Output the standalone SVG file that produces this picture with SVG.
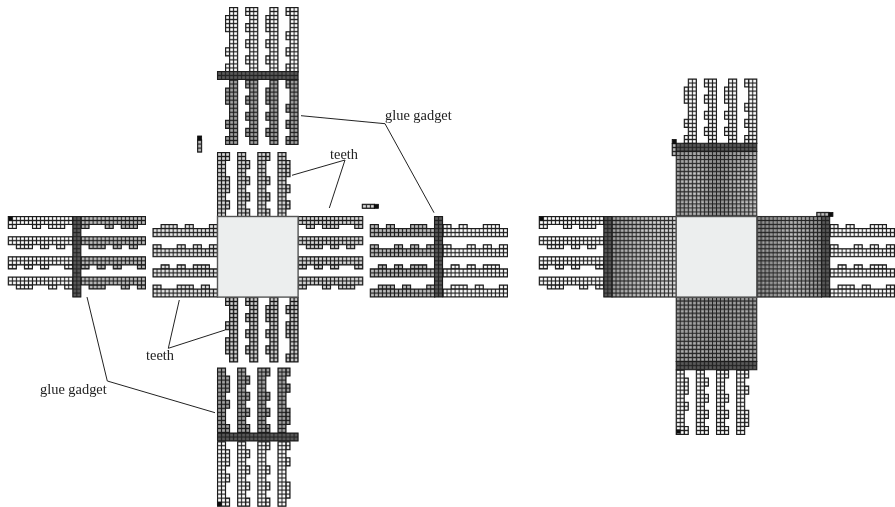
<svg xmlns="http://www.w3.org/2000/svg" width="895" height="507" viewBox="0 0 895 507">
<style>
.c{stroke:#1a1a1a;stroke-width:.26;stroke-linejoin:miter}
.pw{fill:url(#pw)}.pl{fill:url(#pl)}.pn{fill:url(#pn)}.pm{fill:url(#pm)}.pg{fill:url(#pg)}.ps{fill:url(#ps)}.pd{fill:url(#pd)}.pk{fill:#111;stroke:#111;stroke-width:.2}
.mesh{stroke:#333;stroke-width:.26}
.core{fill:#eceeee;stroke:#555;stroke-width:1.4}
.lead{fill:none;stroke:#222;stroke-width:1}
text{font-family:"Liberation Serif","Times New Roman",serif;font-size:14.4px;fill:#222}
</style>
<defs>
<filter id="b" x="-2%" y="-2%" width="104%" height="104%"><feGaussianBlur stdDeviation=".25"/></filter>
<pattern id="pw" patternUnits="userSpaceOnUse" x=".5" y=".5" width="1" height="1"><rect width="1" height="1" fill="#fff"/><path d="M.5 0V1M0 .5H1" stroke="#1a1a1a" stroke-width=".26" fill="none"/></pattern>
<pattern id="pl" patternUnits="userSpaceOnUse" x=".5" y=".5" width="1" height="1"><rect width="1" height="1" fill="#e6e6e6"/><path d="M.5 0V1M0 .5H1" stroke="#1a1a1a" stroke-width=".26" fill="none"/></pattern>
<pattern id="pn" patternUnits="userSpaceOnUse" x=".5" y=".5" width="1" height="1"><rect width="1" height="1" fill="#d8d8d8"/><path d="M.5 0V1M0 .5H1" stroke="#1a1a1a" stroke-width=".26" fill="none"/></pattern>
<pattern id="pm" patternUnits="userSpaceOnUse" x=".5" y=".5" width="1" height="1"><rect width="1" height="1" fill="#bcbcbc"/><path d="M.5 0V1M0 .5H1" stroke="#1a1a1a" stroke-width=".26" fill="none"/></pattern>
<pattern id="pg" patternUnits="userSpaceOnUse" x=".5" y=".5" width="1" height="1"><rect width="1" height="1" fill="#a2a2a2"/><path d="M.5 0V1M0 .5H1" stroke="#1a1a1a" stroke-width=".26" fill="none"/></pattern>
<pattern id="ps" patternUnits="userSpaceOnUse" x=".5" y=".5" width="1" height="1"><rect width="1" height="1" fill="#d0d0d0"/><path d="M.5 0V1M0 .5H1" stroke="#111" stroke-width=".32" fill="none"/></pattern>
<pattern id="pd" patternUnits="userSpaceOnUse" x=".5" y=".5" width="1" height="1"><rect width="1" height="1" fill="#5a5a5a"/><path d="M.5 0V1M0 .5H1" stroke="#222" stroke-width=".28" fill="none"/></pattern>
<pattern id="pc" patternUnits="userSpaceOnUse" x=".5" y=".5" width="1" height="1"><rect width="1" height="1" fill="#e0e0e0"/><path d="M.5 0V1M0 .5H1" stroke="#2a2a2a" stroke-width=".26" fill="none"/></pattern>
<pattern id="mo" patternUnits="userSpaceOnUse" width="4.35" height="4.35"><path d="M1 0V4.35M0 1H4.35" stroke="#333" stroke-width="1.1" stroke-opacity=".28" fill="none"/></pattern>
<linearGradient id="gw" x1="0" x2="1" y1="0" y2="0"><stop offset="0" stop-color="#000" stop-opacity=".3"/><stop offset=".6" stop-color="#000" stop-opacity=".08"/><stop offset="1" stop-color="#000" stop-opacity="0"/></linearGradient>
<linearGradient id="ge" x1="0" x2="1" y1="0" y2="0"><stop offset="0" stop-color="#000" stop-opacity=".32"/><stop offset=".55" stop-color="#000" stop-opacity=".1"/><stop offset="1" stop-color="#000" stop-opacity=".28"/></linearGradient>
<linearGradient id="gn" x1="0" x2="1" y1="0" y2="0"><stop offset="0" stop-color="#000" stop-opacity=".22"/><stop offset=".25" stop-color="#000" stop-opacity=".1"/><stop offset=".5" stop-color="#000" stop-opacity=".24"/><stop offset=".75" stop-color="#000" stop-opacity=".16"/><stop offset="1" stop-color="#000" stop-opacity=".03"/></linearGradient>
<linearGradient id="gs" x1="0" x2="0" y1="0" y2="1"><stop offset="0" stop-color="#000" stop-opacity=".3"/><stop offset=".5" stop-color="#000" stop-opacity=".18"/><stop offset="1" stop-color="#000" stop-opacity=".25"/></linearGradient>
<path id="NO" d="M3 0h2v16H3zM2 2h1v4H2zM2 10h1v2H2zM2 14h1v2H2zM8 0h2v16H8zM7 0h1v2H7zM7 4h1v2H7zM7 8h1v2H7zM7 12h1v2H7zM13 0h2v16h-2zM12 2h1v4h-1zM12 8h1v2h-1zM12 12h1v2h-1zM18 0h2v16h-2zM17 0h1v2h-1zM17 6h1v2h-1zM17 10h1v2h-1zM17 14h1v2h-1z"/>
<path id="NI" d="M0 0h2v16H0zM2 0h1v2H2zM2 6h1v4H2zM2 12h1v2H2zM5 0h2v16H5zM7 2h1v2H7zM7 6h1v2H7zM7 10h1v2H7zM7 14h1v2H7zM10 0h2v16h-2zM12 0h1v2h-1zM12 6h1v2h-1zM12 10h1v2h-1zM12 14h1v2h-1zM15 0h2v16h-2zM17 2h1v4h-1zM17 8h1v2h-1zM17 12h1v2h-1z"/>
<path id="WO" d="M0 0h16v2H0zM0 2h2v1H0zM6 2h2v1H6zM10 2h4v1h-4zM0 5h16v2H0zM2 7h4v1H2zM8 7h2v1H8zM12 7h2v1h-2zM0 10h16v2H0zM0 12h2v1H0zM4 12h2v1H4zM8 12h2v1H8zM14 12h2v1h-2zM0 15h16v2H0zM2 17h4v1H2zM10 17h2v1h-2zM14 17h2v1h-2z"/>
<path id="WI" d="M0 3h16v2H0zM2 2h4v1H2zM8 2h2v1H8zM14 2h2v1h-2zM0 8h16v2H0zM0 7h2v1H0zM6 7h2v1H6zM10 7h2v1h-2zM14 7h2v1h-2zM0 13h16v2H0zM2 12h2v1H2zM6 12h2v1H6zM10 12h4v1h-4zM0 18h16v2H0zM0 17h2v1H0zM6 17h4v1H6zM12 17h2v1h-2z"/>
<path id="EI" d="M0 0h16v2H0zM2 2h2v1H2zM6 2h4v1H6zM14 2h2v1h-2zM0 5h16v2H0zM2 7h4v1H2zM8 7h2v1H8zM12 7h2v1h-2zM0 10h16v2H0zM0 12h2v1H0zM4 12h2v1H4zM8 12h2v1H8zM14 12h2v1h-2zM0 15h16v2H0zM0 17h2v1H0zM6 17h2v1H6zM10 17h4v1h-4z"/>
<path id="EO" d="M0 3h16v2H0zM0 2h2v1H0zM4 2h2v1H4zM10 2h4v1h-4zM0 8h16v2H0zM0 7h2v1H0zM6 7h2v1H6zM10 7h2v1h-2zM14 7h2v1h-2zM0 13h16v2H0zM2 12h2v1H2zM6 12h2v1H6zM10 12h4v1h-4zM0 18h16v2H0zM2 17h4v1H2zM8 17h2v1H8zM14 17h2v1h-2z"/>
<path id="SI" d="M3 0h2v16H3zM2 0h1v2H2zM2 6h1v2H2zM2 10h1v4H2zM8 0h2v16H8zM7 0h1v2H7zM7 4h1v2H7zM7 8h1v2H7zM7 12h1v2H7zM13 0h2v16h-2zM12 2h1v4h-1zM12 8h1v2h-1zM12 12h1v2h-1zM18 0h2v16h-2zM17 2h1v2h-1zM17 6h1v4h-1zM17 14h1v2h-1z"/>
<path id="SO" d="M0 0h2v16H0zM2 2h1v4H2zM2 8h1v2H2zM2 14h1v2H2zM5 0h2v16H5zM7 2h1v2H7zM7 6h1v2H7zM7 10h1v2H7zM7 14h1v2H7zM10 0h2v16h-2zM12 0h1v2h-1zM12 6h1v2h-1zM12 10h1v2h-1zM12 14h1v2h-1zM15 0h2v16h-2zM17 0h1v2h-1zM17 4h1v2h-1zM17 10h1v4h-1z"/>
<path id="GH" d="M0 0h20v2H0z"/>
<path id="GV" d="M0 0h2v20H0z"/>
</defs>
<g filter="url(#b)">
<g id="left-north-outer"><use href="#NO" class="pw c" transform="translate(217.5 7.5) scale(4.03)"/><use href="#NO" class="pg c" transform="translate(217.5 80) scale(4.03)"/><use href="#GH" class="pd c" transform="translate(217.5 71.5) scale(4.03)"/></g>
<g id="left-north-inner"><use href="#NI" class="pn c" transform="translate(217.5 152.5) scale(4.03)"/></g>
<g id="left-north-tile" transform="translate(197.6 136) scale(4.03)"><rect class="pm c" y="1" width="1" height="3"/><rect class="pk" width="1" height="1"/></g>
<g id="left-west-outer"><use href="#WO" class="pw c" transform="translate(8.3 216.5) scale(4.03)"/><use href="#WO" class="pm c" transform="translate(81 216.5) scale(4.03)"/><use href="#GV" class="pd c" transform="translate(72.8 216.5) scale(4.03)"/><rect class="pk" x="8.3" y="216.5" width="4" height="4"/></g>
<g id="left-west-inner"><use href="#WI" class="pl c" transform="translate(153 216.5) scale(4.03)"/></g>
<g id="left-east-inner"><use href="#EI" class="pn c" transform="translate(298.3 216.5) scale(4.03)"/></g>
<g id="left-east-outer"><use href="#EO" class="pw c" transform="translate(443 216.5) scale(4.03)"/><use href="#EO" class="pm c" transform="translate(370.3 216.5) scale(4.03)"/><use href="#GV" class="pd c" transform="translate(434.5 216.5) scale(4.03)"/></g>
<g id="left-east-tile" transform="translate(362.3 204.3) scale(4.03)"><rect class="pn c" width="3" height="1"/><rect class="pk" x="3" width="1" height="1"/></g>
<g id="left-south-inner"><use href="#SI" class="ps c" transform="translate(217.5 297.5) scale(4.03)"/></g>
<g id="left-south-outer"><use href="#SO" class="pw c" transform="translate(217.5 441.7) scale(4.03)"/><use href="#SO" class="pg c" transform="translate(217.5 368) scale(4.03)"/><use href="#GH" class="pd c" transform="translate(217.5 433) scale(4.03)"/><rect class="pk" x="217.5" y="502" width="4" height="4"/></g>
<g id="left-core"><rect class="core" x="217.5" y="216.5" width="80.6" height="80.6"/></g>

<g id="right-north"><use href="#NO" class="pw c" transform="translate(676.2 79) scale(4.03)"/><rect fill="url(#pc)" class="mesh" transform="translate(676.2 151.5) scale(4.03)" width="20" height="16"/><rect x="676.2" y="151.5" width="80.6" height="64.5" fill="url(#gn)"/><rect x="676.2" y="151.5" width="80.6" height="64.5" fill="url(#mo)"/><use href="#GH" class="pd c" transform="translate(676.2 143.3) scale(4.03)"/></g>
<g id="right-north-tile" transform="translate(672.2 139.5) scale(4.03)"><rect class="pm c" y="1" width="1" height="3"/><rect class="pk" width="1" height="1"/></g>
<g id="right-west"><use href="#WO" class="pw c" transform="translate(539.3 216.5) scale(4.03)"/><rect fill="url(#pc)" class="mesh" transform="translate(612 216.5) scale(4.03)" width="16" height="20"/><rect x="612" y="216.5" width="64.5" height="80.6" fill="url(#gw)"/><use href="#GV" class="pd c" transform="translate(603.8 216.5) scale(4.03)"/><rect class="pk" x="539.3" y="216.5" width="4" height="4"/></g>
<g id="right-east"><use href="#EO" class="pw c" transform="translate(830 216.5) scale(4.03)"/><rect fill="url(#pc)" class="mesh" transform="translate(757 216.5) scale(4.03)" width="16" height="20"/><rect x="757" y="216.5" width="64.5" height="80.6" fill="url(#ge)"/><rect x="757" y="216.5" width="64.5" height="80.6" fill="url(#mo)"/><use href="#GV" class="pd c" transform="translate(821.6 216.5) scale(4.03)"/></g>
<g id="right-east-tile" transform="translate(816.8 212.4) scale(4.03)"><rect class="pm c" width="3" height="1"/><rect class="pk" x="3" width="1" height="1"/></g>
<g id="right-south"><use href="#SO" class="pw c" transform="translate(676.2 370) scale(4.03)"/><rect fill="url(#pc)" class="mesh" transform="translate(676.2 297) scale(4.03)" width="20" height="16"/><rect x="676.2" y="297" width="80.6" height="64.5" fill="url(#gs)"/><rect x="676.2" y="297" width="80.6" height="64.5" fill="url(#mo)"/><use href="#GH" class="pd c" transform="translate(676.2 361.6) scale(4.03)"/><rect class="pk" x="676.2" y="429.5" width="4" height="4"/></g>
<g id="right-core"><rect class="core" x="676.2" y="216.5" width="80.6" height="80.6"/></g>

<g id="connectors">
<path class="lead" d="M301 115.7L385 123.7L434 212.7"/>
<path class="lead" d="M292 175.3L345 160L329.3 208"/>
<path class="lead" d="M225 330L168.3 348.3L179.3 300"/>
<path class="lead" d="M87 297L107.3 381L215 412.7"/>
</g>
<g id="labels">
<text x="385" y="120">glue gadget</text>
<text x="330" y="159">teeth</text>
<text x="146" y="360">teeth</text>
<text x="40" y="394">glue gadget</text>
</g>
</g>
</svg>
